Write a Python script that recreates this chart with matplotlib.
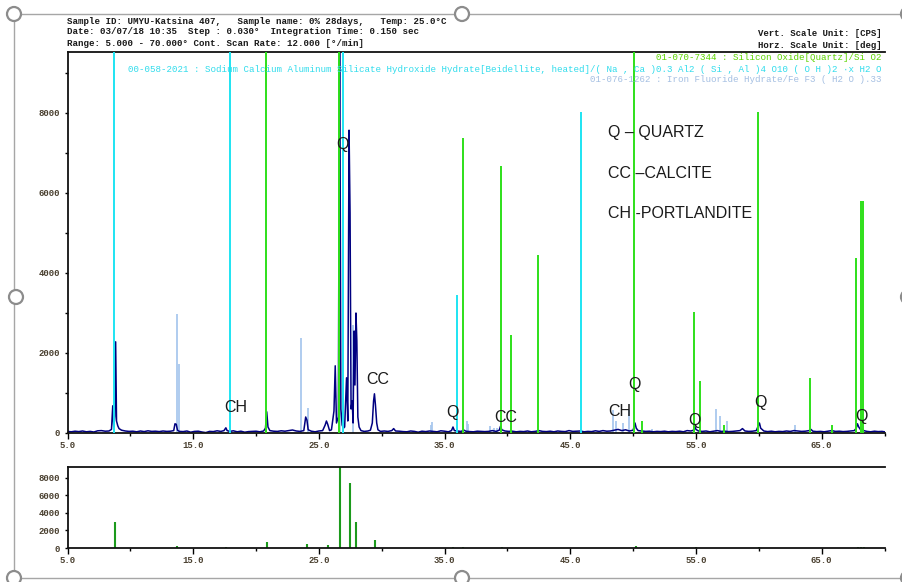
import numpy as np
import matplotlib
matplotlib.use('Agg')
import matplotlib.pyplot as plt
from matplotlib.patches import Ellipse, Rectangle
from matplotlib.ticker import MultipleLocator, FixedLocator

# ── Measured pattern (2theta, CPS) ─────────────────────────────────────────────
tt = [5.0, 5.3, 5.6, 5.9, 6.2, 6.5, 6.8, 7.1, 7.4, 7.7, 8.0, 8.3, 8.5, 8.6, 8.68, 8.76,
      8.83, 8.9, 9.0, 9.1, 9.3, 9.6, 9.9, 10.2, 10.5, 10.8, 11.1, 11.4, 11.7, 12.0, 12.3,
      12.6, 12.9, 13.2, 13.45, 13.55, 13.65, 13.75, 13.9, 14.2, 14.5, 14.8, 15.1, 15.4,
      15.7, 16.0, 16.3, 16.6, 16.9, 17.2, 17.45, 17.6, 17.7, 17.9, 18.2, 18.5, 18.8, 19.1,
      19.4, 19.7, 20.0, 20.3, 20.6, 20.75, 20.85, 20.95, 21.1, 21.4, 21.7, 22.0, 22.3,
      22.6, 22.9, 23.2, 23.5, 23.8, 23.95, 24.05, 24.15, 24.4, 24.7, 25.0, 25.3, 25.5,
      25.6, 25.7, 25.85, 26.0, 26.2, 26.3, 26.4, 26.55, 26.65, 26.75, 26.85, 26.95, 27.05,
      27.2, 27.3, 27.4, 27.48, 27.56, 27.65, 27.72, 27.8, 27.87, 27.95, 28.02, 28.1, 28.2,
      28.35, 28.6, 28.9, 29.1, 29.25, 29.35, 29.42, 29.5, 29.6, 29.7, 29.9, 30.2, 30.5,
      30.8, 30.95, 31.1, 31.4, 31.7, 32.0, 32.3, 32.6, 32.9, 33.2, 33.5, 33.8, 34.1, 34.4,
      34.7, 35.0, 35.3, 35.55, 35.67, 35.78, 36.0, 36.3, 36.55, 36.7, 37.0, 37.3, 37.6,
      37.9, 38.2, 38.5, 38.8, 39.1, 39.35, 39.45, 39.55, 39.8, 40.1, 40.4, 40.7, 41.0,
      41.3, 41.6, 41.9, 42.2, 42.5, 42.8, 43.1, 43.4, 43.7, 44.0, 44.3, 44.6, 44.9, 45.2,
      45.5, 45.8, 46.1, 46.4, 46.7, 47.0, 47.3, 47.6, 47.9, 48.2, 48.5, 48.8, 49.1, 49.4,
      49.7, 50.0, 50.15, 50.25, 50.4, 50.7, 51.0, 51.3, 51.6, 51.9, 52.2, 52.5, 52.8, 53.1,
      53.4, 53.7, 54.0, 54.3, 54.6, 54.8, 54.9, 55.0, 55.2, 55.5, 55.8, 56.1, 56.4, 56.7,
      57.0, 57.3, 57.6, 57.9, 58.2, 58.5, 58.7, 58.9, 59.2, 59.5, 59.8, 60.05, 60.15, 60.4,
      60.7, 61.0, 61.3, 61.6, 61.9, 62.2, 62.5, 62.8, 63.1, 63.4, 63.7, 64.0, 64.15, 64.3,
      64.6, 64.9, 65.2, 65.5, 65.8, 66.1, 66.4, 66.7, 67.0, 67.3, 67.6, 67.75, 67.85,
      67.95, 68.1, 68.2, 68.35, 68.6, 68.9, 69.2, 69.5, 69.8, 70.0]
cps = [40, 30, 45, 35, 50, 30, 40, 25, 55, 60, 45, 50, 90, 680, 150, 420,
       2280, 300, 180, 110, 70, 50, 40, 45, 30, 50, 35, 55, 40, 45, 35,
       50, 40, 45, 60, 230, 220, 70, 40, 35, 50, 20, 40, 45,
       25, 10, 40, 35, 55, 40, 60, 130, 60, 40, 55, 30, 45, 20,
       35, 40, 45, 30, 50, 120, 530, 150, 60, 45, 40, 55, 45,
       60, 75, 50, 40, 60, 400, 320, 80, 45, 30, 50, 60, 200,
       300, 220, 60, 80, 550, 1680, 250, 400, 11000, 600, 200, 120, 150,
       1380, 300, 7570, 5500, 600, 800, 250, 2550, 1200, 3000, 2300, 400, 150,
       60, 40, 50, 70, 250, 800, 980, 700, 250, 80, 40, 50, 40,
       60, 110, 50, 45, 35, 30, 50, 40, 20, 45, 35, 50, 40, 30,
       55, 45, 30, 60, 150, 60, 50, 40, 70, 45, 35, 30, 45,
       40, 35, 40, 60, 40, 70, 170, 80, 50, 40, 45, 30, 40,
       35, 50, 30, 40, 60, 40, 35, 45, 30, 50, 40, 35, 60, 40,
       45, 50, 30, 40, 35, 55, 40, 60, 45, 50, 70, 90, 60, 80,
       50, 70, 250, 120, 60, 50, 40, 45, 30, 40, 35, 45, 30, 40,
       35, 45, 30, 60, 50, 70, 160, 90, 50, 40, 50, 30, 45, 60,
       40, 45, 35, 40, 50, 60, 110, 50, 40, 45, 60, 250, 120, 50,
       35, 45, 30, 40, 35, 50, 40, 60, 50, 40, 45, 60, 90, 45,
       35, 40, 30, 45, 60, 40, 45, 35, 40, 50, 60, 120, 230,
       150, 80, 100, 60, 40, 30, 45, 35, 40, 30]

# ── Reference cards (sticks) ─────────────────────────────────────────────────
beid_pos = [8.73, 17.93, 26.9, 36.02, 45.85]
beid_int = [12000, 12000, 12000, 3450, 8030]
quartz_pos = [20.8, 26.6, 36.5, 39.45, 40.25, 42.4, 50.1, 50.7, 54.85, 55.3, 57.2,
              59.95, 64.05, 65.85, 67.7, 68.12, 68.3]
quartz_int = [12000, 12000, 7380, 6680, 2450, 4450, 12000, 300, 3030, 1300, 200,
              8030, 1380, 200, 4380, 5800, 5800]
fef_pos = [13.72, 13.87, 23.55, 24.1, 26.65, 27.7, 33.9, 34.0, 36.8, 36.9, 38.6, 38.9,
           39.2, 48.4, 48.6, 49.2, 49.7, 51.5, 56.6, 56.9, 57.5, 62.9]
fef_int = [2980, 1730, 2380, 630, 2100, 2700, 200, 280, 300, 230, 175, 120,
           120, 575, 300, 250, 575, 100, 600, 430, 300, 200]

# ── Lower panel: peak list ────────────────────────────────────────────────────
pk_pos = [8.8, 13.7, 17.6, 20.85, 24.05, 25.75, 26.65, 27.45, 27.95, 29.45,
          35.65, 36.5, 39.55, 50.2, 54.97, 60.05, 67.9, 68.15, 68.4]
pk_int = [2970, 190, 150, 690, 490, 340, 9300, 7430, 2970, 950,
          100, 100, 100, 200, 120, 120, 120, 120, 100]

# ── Phase labels ──────────────────────────────────────────────────────────────
lab_txt = ['Q', 'CC', 'CH', 'Q', 'CC', 'CH', 'Q', 'Q', 'Q', 'Q']
lab_x = [26.84, 29.7, 18.4, 35.6, 39.9, 48.95, 50.07, 54.84, 60.09, 68.2]
lab_y = [7225, 1325, 650, 525, 400, 525, 1225, 325, 775, 400]
key_txt = ['Q \u2013 QUARTZ', 'CC \u2013CALCITE', 'CH -PORTLANDITE']
key_y = [7500, 6475, 5475]

W, H = 902, 582
fx = lambda px: px / W
fy = lambda py: 1 - py / H

MONO = 'Liberation Mono'
NAVY = '#000080'
CYAN = '#1ee4f2'
GREEN = '#2ee01a'
LBLUE = '#a9c8ee'
TICKC = '#4a4030'

fig = plt.figure(figsize=(W / 100, H / 100), dpi=100)
fig.patch.set_facecolor('white')

# Word-style selection frame (right edge falls just outside the picture)
fig.add_artist(Rectangle((fx(14), fy(578)), fx(908) - fx(14), fy(14) - fy(578),
                         transform=fig.transFigure, fill=False, ec='#a6a6a6', lw=1.0))
for hx, hy in [(14, 14), (462, 14), (908, 14), (16, 297), (908, 297),
               (14, 578), (462, 578), (908, 578)]:
    fig.add_artist(Ellipse((fx(hx), fy(hy)), 14 / W, 14 / H, transform=fig.transFigure,
                           fc='white', ec='#8c8c8c', lw=1.6, zorder=10))

ax = fig.add_axes([fx(67.5), fy(433), fx(884.5) - fx(67.5), fy(52) - fy(433)])
ax2 = fig.add_axes([fx(67.5), fy(548), fx(884.5) - fx(67.5), fy(467) - fy(548)])

# ── Main panel ────────────────────────────────────────────────────────────────
ax.vlines(fef_pos, 0, fef_int, colors=LBLUE, lw=1.3, zorder=1)
ax.plot(tt, cps, color=NAVY, lw=1.1, zorder=2)
ax.vlines(beid_pos, 0, beid_int, colors=CYAN, lw=1.4, zorder=3)
ax.vlines(quartz_pos, 0, quartz_int, colors=GREEN, lw=1.4, zorder=3)

for t, x, y in zip(lab_txt, lab_x, lab_y):
    ax.text(x, y, t, ha='center', va='center', fontsize=11.5,
            family='Liberation Sans', color='#1a1a1a', zorder=5)
for t, y in zip(key_txt, key_y):
    ax.text(48.0, y, t, ha='left', va='center', fontsize=11.5,
            family='Liberation Sans', color='#1a1a1a', zorder=5)

ax.set_xlim(5, 70)
ax.set_ylim(0, 9525)
ax.xaxis.set_major_locator(FixedLocator([5, 15, 25, 35, 45, 55, 65]))
ax.xaxis.set_minor_locator(FixedLocator([10, 20, 30, 40, 50, 60, 70]))
ax.yaxis.set_major_locator(MultipleLocator(2000))
ax.yaxis.set_minor_locator(MultipleLocator(1000))

# ── Lower panel ───────────────────────────────────────────────────────────────
ax2.vlines(pk_pos, 0, pk_int, colors='#1c9a1c', lw=1.5)
ax2.set_xlim(5, 70)
ax2.set_ylim(0, 9257)
ax2.xaxis.set_major_locator(FixedLocator([5, 15, 25, 35, 45, 55, 65]))
ax2.xaxis.set_minor_locator(FixedLocator([10, 20, 30, 40, 50, 60, 70]))
ax2.yaxis.set_major_locator(MultipleLocator(2000))

for a in (ax, ax2):
    a.spines['right'].set_visible(False)
    for s in ('left', 'top', 'bottom'):
        a.spines[s].set_linewidth(1.3)
        a.spines[s].set_color('#111111')
    a.xaxis.set_major_formatter(plt.FuncFormatter(lambda v, p: f'{v:.1f}'))
    a.tick_params(axis='x', which='major', length=4, width=1.0, direction='out', pad=2,
                  labelsize=6.5, labelcolor=TICKC)
    a.tick_params(axis='x', which='minor', length=2.5, width=1.0, direction='out')
    a.tick_params(axis='y', which='both', length=2.5, width=1.0, direction='out', pad=3,
                  labelsize=6.5, labelcolor=TICKC)
    for lbl in a.get_xticklabels() + a.get_yticklabels():
        lbl.set_family(MONO)
        lbl.set_fontweight('bold')

# ── Header / card texts ──────────────────────────────────────────────────────
hdr = ['Sample ID: UMYU-Katsina 407,   Sample name: 0% 28days,   Temp: 25.0\u00b0C',
       'Date: 03/07/18 10:35  Step : 0.030\u00b0  Integration Time: 0.150 sec',
       'Range: 5.000 - 70.000\u00b0 Cont. Scan Rate: 12.000 [\u00b0/min]']
for i, line in enumerate(hdr):
    fig.text(fx(67), fy(21 + 11 * i), line, ha='left', va='center', family=MONO,
             fontsize=6.6, fontweight='bold', color='#1a1a1a')
fig.text(fx(882), fy(33), 'Vert. Scale Unit: [CPS]', ha='right', va='center',
         family=MONO, fontsize=6.5, fontweight='bold', color='#1a1a1a')
fig.text(fx(882), fy(45), 'Horz. Scale Unit: [deg]', ha='right', va='center',
         family=MONO, fontsize=6.5, fontweight='bold', color='#1a1a1a')

fig.text(fx(882), fy(58), '01-070-7344 : Silicon Oxide[Quartz]/Si O2', ha='right',
         va='center', family=MONO, fontsize=6.6, color='#5cd400', zorder=6)
fig.text(fx(882), fy(69), '00-058-2021 : Sodium Calcium Aluminum Silicate Hydroxide '
         'Hydrate[Beidellite, heated]/( Na , Ca )0.3 Al2 ( Si , Al )4 O10 ( O H )2 \u00b7x H2 O',
         ha='right', va='center', family=MONO, fontsize=6.6, color='#30dcec', zorder=6)
fig.text(fx(882), fy(80), '01-076-1262 : Iron Fluoride Hydrate/Fe F3 ( H2 O ).33',
         ha='right', va='center', family=MONO, fontsize=6.6, color='#a4bfe2', zorder=6)

plt.savefig('out.png', dpi=100, facecolor='white')
